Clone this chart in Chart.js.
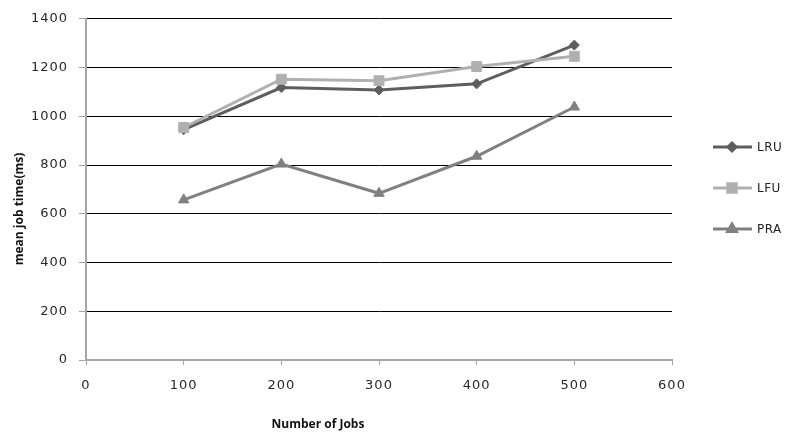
<!DOCTYPE html>
<html>
<head>
<meta charset="utf-8">
<script src="https://cdn.jsdelivr.net/npm/chart.js@4/dist/chart.umd.min.js"></script>
<style>
  html, body { margin: 0; padding: 0; background: #fff; }
  #wrap { width: 786px; height: 443px; position: relative; }
</style>
</head>
<body>
<div id="wrap"><canvas id="c" width="786" height="443"></canvas></div>
<script>
// Number of jobs on the x axis
const jobs = [100, 200, 300, 400, 500];
// Mean job time (ms) per replacement policy
const lru = [945, 1118, 1108, 1133, 1292];
const lfu = [954, 1152, 1146, 1204, 1246];
const pra = [657, 804, 684, 836, 1038];

const seriesNames = ['LRU', 'LFU', 'PRA'];
const seriesColors = ['#5e5e5e', '#b0b0b0', '#808080'];
const seriesMarkers = ['rectRot', 'rect', 'triangle'];
const seriesRadius = [5, 7, 6];

const xTitle = 'Number of Jobs';
const yTitle = 'mean job time(ms)';

const tickFont = { family: 'DejaVu Sans', size: 13 };
const tickColor = '#262636';
const axisGray = '#a6a6a6';

function pts(vals) { return jobs.map((x, i) => ({ x: x, y: vals[i] })); }

// Titles and a side legend painted directly on the canvas
const decorations = {
  id: 'decorations',
  beforeDraw(chart) {
    chart.ctx.letterSpacing = '1px';
  },
  afterDraw(chart) {
    const ctx = chart.ctx;
    ctx.save();
    ctx.letterSpacing = '0px';
    ctx.fillStyle = '#111';
    ctx.font = 'bold 12px "Open Sans"';
    ctx.textAlign = 'center';
    ctx.textBaseline = 'middle';
    ctx.fillText(xTitle, 318, 425);
    ctx.translate(20, 209);
    ctx.rotate(-Math.PI / 2);
    ctx.fillText(yTitle, 0, 0);
    ctx.restore();

    // legend: line sample with marker, then label
    const rows = [147, 188, 229];
    chart.data.datasets.forEach((ds, i) => {
      const y = rows[i];
      ctx.save();
      ctx.strokeStyle = ds.borderColor;
      ctx.lineWidth = 3;
      ctx.beginPath();
      ctx.moveTo(713, y);
      ctx.lineTo(752, y);
      ctx.stroke();
      Chart.helpers.drawPoint(ctx, {
        pointStyle: ds.pointStyle,
        radius: ds.pointRadius - 1,
        rotation: 0,
        borderWidth: 1
      }, 732, y);
      ctx.fillStyle = ds.borderColor;
      ctx.fill();
      ctx.letterSpacing = '0.5px';
      ctx.fillStyle = '#222';
      ctx.font = '12px "DejaVu Sans"';
      ctx.textAlign = 'left';
      ctx.textBaseline = 'middle';
      ctx.fillText(ds.label, 757, y + 1);
      ctx.restore();
    });
  }
};

const values = [lru, lfu, pra];
const datasets = values.map((v, i) => ({
  label: seriesNames[i],
  data: pts(v),
  borderColor: seriesColors[i],
  backgroundColor: seriesColors[i],
  borderWidth: 3,
  pointStyle: seriesMarkers[i],
  pointRadius: seriesRadius[i],
  pointBorderWidth: 1,
  pointBorderColor: seriesColors[i],
  pointBackgroundColor: seriesColors[i],
  tension: 0,
  order: 3 - i
}));

new Chart(document.getElementById('c'), {
  type: 'line',
  data: { datasets },
  plugins: [decorations],
  options: {
    responsive: false,
    animation: false,
    events: [],
    layout: { padding: { left: 0, right: 114, top: 16, bottom: 0 } },
    plugins: { legend: { display: false }, tooltip: { enabled: false } },
    scales: {
      x: {
        type: 'linear',
        min: 0, max: 600,
        afterFit(s) { s.height = 83; },
        ticks: { stepSize: 100, color: tickColor, font: tickFont, padding: 13,
                 callback: v => String(v) },
        grid: { drawOnChartArea: false, drawTicks: true, tickLength: 5, tickColor: axisGray, tickWidth: 1 },
        border: { color: axisGray, width: 2 }
      },
      y: {
        min: 0, max: 1400,
        afterFit(s) { s.width = 86; },
        ticks: { stepSize: 200, color: tickColor, font: tickFont, padding: 11,
                 callback: v => String(v) },
        grid: {
          color: ctx => ctx.tick && ctx.tick.value === 0 ? 'rgba(0,0,0,0)' : '#000',
          lineWidth: 1,
          tickLength: 7,
          tickColor: axisGray,
          tickWidth: 1
        },
        border: { color: axisGray, width: 2 }
      }
    }
  }
});
</script>
</body>
</html>
